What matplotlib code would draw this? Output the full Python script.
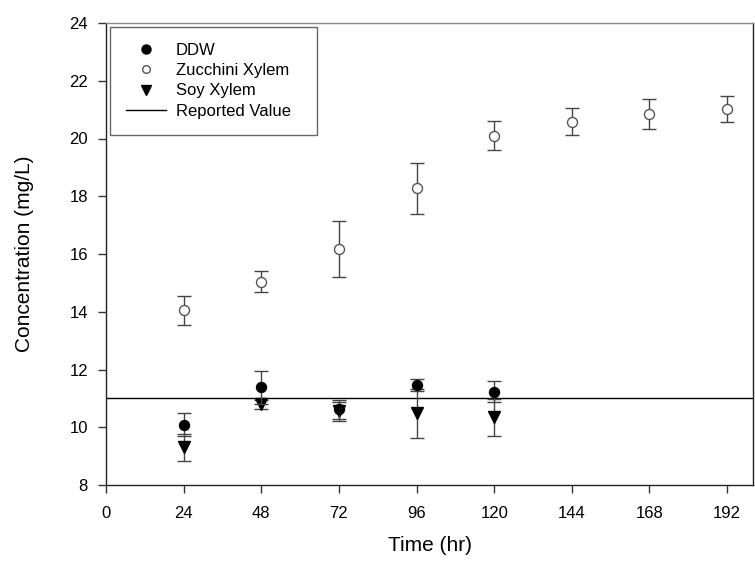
import matplotlib
matplotlib.use("Agg")
import matplotlib.pyplot as plt
from matplotlib.lines import Line2D

plt.rcParams['font.family'] = ['Liberation Sans', 'DejaVu Sans']

time_ddw = [24, 48, 72, 96, 120]
ddw = [10.08, 11.38, 10.62, 11.46, 11.23]
ddw_err = [0.40, 0.57, 0.32, 0.22, 0.37]

time_zuc = [24, 48, 72, 96, 120, 144, 168, 192]
zucchini = [14.05, 15.04, 16.17, 18.27, 20.09, 20.58, 20.85, 21.02]
zucchini_err = [0.50, 0.37, 0.98, 0.88, 0.50, 0.47, 0.52, 0.46]

time_soy = [24, 48, 72, 96, 120]
soy = [9.31, 10.79, 10.55, 10.48, 10.34]
soy_err = [0.47, 0.15, 0.33, 0.84, 0.64]

reported_value = 11.0

x_ticks = [0, 24, 48, 72, 96, 120, 144, 168, 192]
y_ticks = [8, 10, 12, 14, 16, 18, 20, 22, 24]

fig = plt.figure(figsize=(7.55, 5.64), dpi=100)
ax = fig.add_axes([106/755, 1-485/564, (753-106)/755, (485-23)/564])

ebc = '#444444'
ax.axhline(reported_value, color='black', lw=1.0, zorder=1)
ax.errorbar(time_zuc, zucchini, yerr=zucchini_err, fmt='o', ms=7.2,
            mfc='white', mec='#555555', mew=1.0, ecolor=ebc, elinewidth=1.0,
            capsize=4.8, capthick=1.0, zorder=3)
ax.errorbar(time_soy, soy, yerr=soy_err, fmt='v', ms=8.5,
            mfc='black', mec='black', ecolor=ebc, elinewidth=1.0,
            capsize=4.8, capthick=1.0, zorder=3)
ax.errorbar(time_ddw, ddw, yerr=ddw_err, fmt='o', ms=7.2,
            mfc='black', mec='black', ecolor=ebc, elinewidth=1.0,
            capsize=4.8, capthick=1.0, zorder=4)

ax.set_xlim(0, 200)
ax.set_ylim(8, 24)
ax.set_xticks(x_ticks)
ax.set_yticks(y_ticks)
ax.tick_params(axis='both', direction='out', length=6, width=1.0,
               labelsize=12, color='#333333', pad=7)
ax.tick_params(axis='x', pad=9)
for s in ['left', 'bottom', 'right']:
    ax.spines[s].set_color('#222222')
    ax.spines[s].set_linewidth(1.0)
ax.spines['top'].set_color('#888888')
ax.spines['top'].set_linewidth(1.0)

ax.set_xlabel('Time (hr)', fontsize=15, labelpad=11)
ax.set_ylabel('Concentration (mg/L)', fontsize=15, labelpad=25)

handles = [
    Line2D([], [], ls='none', marker='o', ms=6.5, mfc='black', mec='black'),
    Line2D([], [], ls='none', marker='o', ms=5.5, mfc='white', mec='#555555'),
    Line2D([], [], ls='none', marker='v', ms=7.0, mfc='black', mec='black'),
    Line2D([], [], color='black', lw=1.0),
]
labels = ['DDW', 'Zucchini Xylem', 'Soy Xylem', 'Reported Value']
leg = ax.legend(handles, labels, loc='upper left',
                bbox_to_anchor=(110/755, 1-135/564, 207/755, 108/564),
                bbox_transform=fig.transFigure, mode='expand', fontsize=12,
                frameon=True, fancybox=False, edgecolor='#666666', framealpha=1,
                handlelength=2.4, handletextpad=0.6, labelspacing=0.32,
                borderpad=0.95, borderaxespad=0)
leg.get_frame().set_linewidth(1.0)

fig.savefig('out.png', dpi=100)
